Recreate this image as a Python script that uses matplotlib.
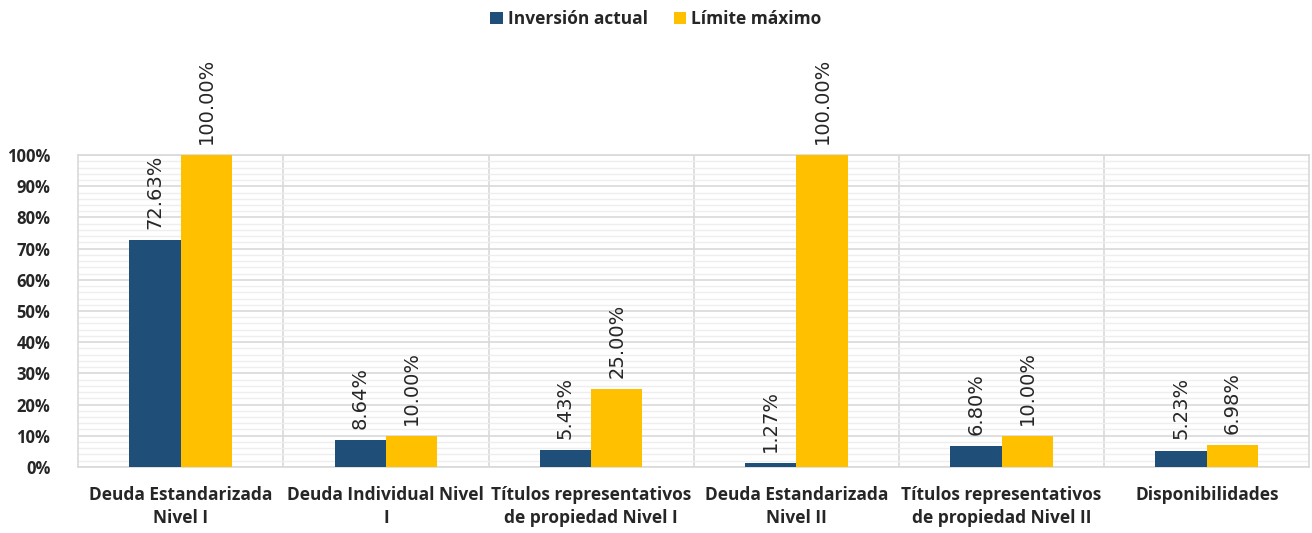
import matplotlib
matplotlib.use("Agg")
import matplotlib.pyplot as plt
import numpy as np
from matplotlib.ticker import MultipleLocator, FuncFormatter

# data
categories = [
    "Deuda Estandarizada\nNivel I",
    "Deuda Individual Nivel\nI",
    "Títulos representativos\nde propiedad Nivel I",
    "Deuda Estandarizada\nNivel II",
    "Títulos representativos\nde propiedad Nivel II",
    "Disponibilidades",
]
inversion_actual = [72.63, 8.64, 5.43, 1.27, 6.80, 5.23]
limite_maximo = [100.00, 10.00, 25.00, 100.00, 10.00, 6.98]
series_names = ["Inversión actual", "Límite máximo"]

C_BLUE = "#1F4E79"
C_GOLD = "#FFC000"
C_TEXT = "#262626"
FONT = ["Liberation Sans Narrow", "Open Sans", "DejaVu Sans"]

fig = plt.figure(figsize=(13.12, 5.33), dpi=100)
ax = fig.add_axes([0.0595, 0.124, 0.9385, 0.585])

x = np.arange(len(categories))
w = 0.25
b1 = ax.bar(x - w / 2, inversion_actual, w, color=C_BLUE, label=series_names[0], zorder=3)
b2 = ax.bar(x + w / 2, limite_maximo, w, color=C_GOLD, label=series_names[1], zorder=3)

for bars, vals in ((b1, inversion_actual), (b2, limite_maximo)):
    for rect, v in zip(bars, vals):
        ax.annotate(f"{v:.2f}%", (rect.get_x() + rect.get_width() / 2, rect.get_height()),
                    xytext=(0, 8), textcoords="offset points", rotation=90,
                    ha="center", va="bottom", fontsize=14, color=C_TEXT,
                    family="DejaVu Sans", annotation_clip=False)

ax.set_xlim(-0.5, len(categories) - 0.5)
ax.set_ylim(0, 100)
ax.yaxis.set_major_locator(MultipleLocator(10))
ax.yaxis.set_minor_locator(MultipleLocator(2))
ax.yaxis.set_major_formatter(FuncFormatter(lambda v, _: f"{v:.0f}%"))
ax.grid(axis="y", which="major", color="#d9d9d9", lw=1.2, zorder=0)
ax.grid(axis="y", which="minor", color="#eeeeee", lw=1.0, zorder=0)
for sep in x[1:] - 0.5:
    ax.axvline(sep, color="#d9d9d9", lw=1.2, zorder=1)
ax.tick_params(axis="both", which="both", length=0)
ax.tick_params(axis="y", pad=20)
ax.tick_params(axis="x", pad=14)
ax.set_xticks(x)
ax.set_xticklabels(categories, fontsize=12.5, fontweight="bold", color=C_TEXT,
                   family=FONT, linespacing=1.35)
for lab in ax.get_yticklabels():
    lab.set_fontsize(12)
    lab.set_fontweight("bold")
    lab.set_color(C_TEXT)
    lab.set_family(FONT)
for s in ax.spines.values():
    s.set_color("#d9d9d9")
    s.set_linewidth(1.2)

fig.legend(loc="upper center", bbox_to_anchor=(0.5, 1.01), ncol=2, frameon=False,
           prop={"family": FONT, "weight": "bold", "size": 12.5},
           handlelength=0.7, handleheight=0.7, handletextpad=0.3, columnspacing=1.5,
           labelcolor=C_TEXT)

fig.savefig("out.png", dpi=100)
